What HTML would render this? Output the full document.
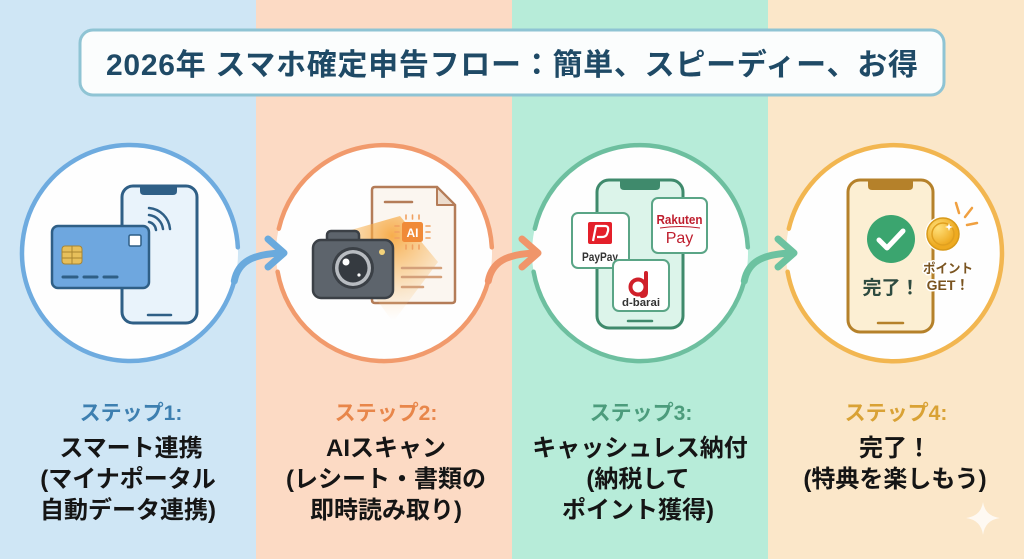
<!DOCTYPE html>
<html>
<head>
<meta charset="utf-8">
<style>
  html,body{margin:0;padding:0;}
  body{width:1024px;height:559px;overflow:hidden;background:#fbe7c9;}
  svg{display:block;}
  text{font-family:"Liberation Sans","Noto Sans CJK JP",sans-serif;font-weight:700;}
</style>
</head>
<body>
<svg width="1024" height="559" viewBox="0 0 1024 559" xmlns="http://www.w3.org/2000/svg">
  <defs>
    <radialGradient id="beam" cx="392" cy="236" r="85" gradientUnits="userSpaceOnUse">
      <stop offset="0" stop-color="#f6a030" stop-opacity="0.85"/>
      <stop offset="0.5" stop-color="#f8b860" stop-opacity="0.45"/>
      <stop offset="1" stop-color="#fbd8a8" stop-opacity="0"/>
    </radialGradient>
    <radialGradient id="coin" cx="938" cy="228" r="18" gradientUnits="userSpaceOnUse">
      <stop offset="0" stop-color="#ffe07a"/>
      <stop offset="1" stop-color="#eeaa20"/>
    </radialGradient>
  </defs>

  <!-- background panels -->
  <rect x="0" y="0" width="256" height="559" fill="#cfe6f5"/>
  <rect x="256" y="0" width="256" height="559" fill="#fcdac4"/>
  <rect x="512" y="0" width="256" height="559" fill="#b7ecd9"/>
  <rect x="768" y="0" width="256" height="559" fill="#fbe7c9"/>

  <!-- title -->
  <rect x="80" y="30" width="864" height="65" rx="13" fill="#fbfdfd" stroke="#8fc4d4" stroke-width="3"/>
  <text x="512" y="75" text-anchor="middle" font-size="30" fill="#1f4a66" textLength="812" lengthAdjust="spacing">2026年 スマホ確定申告フロー：簡単、スピーディー、お得</text>

  <!-- circle fills -->
  <circle cx="130" cy="253" r="108" fill="#fefefe"/>
  <circle cx="384" cy="253" r="108" fill="#fefefe"/>
  <circle cx="640" cy="253" r="108" fill="#fefefe"/>
  <circle cx="894" cy="253" r="108" fill="#fefefe"/>

  <!-- circle strokes -->
  <g fill="none" stroke-width="4.5" stroke-linecap="round">
    <path d="M234.3 281 A108 108 0 1 1 237.85 247.35" stroke="#6eabdf"/>
    <path d="M488.3 281 A108 108 0 0 1 277.6 271.75 M278.8 228.7 A108 108 0 0 1 491.85 247.35" stroke="#f19a6c"/>
    <path d="M744.3 281 A108 108 0 0 1 533.6 271.75 M534.8 228.7 A108 108 0 0 1 747.85 247.35" stroke="#6dbf9f"/>
    <path d="M788.8 228.7 A108 108 0 1 1 787.6 271.75" stroke="#f2b650"/>
  </g>

  <!-- arrows -->
  <g fill="none" stroke-width="7" stroke-linecap="round" stroke-linejoin="round">
    <g stroke="#6aaadd">
      <path d="M234.3 281 C238 262, 252 254, 282 253"/>
      <path d="M268 239 L284 253 L268 267"/>
    </g>
    <g stroke="#f0956a">
      <path d="M488.3 281 C492 262, 506 254, 536 253"/>
      <path d="M522 239 L538 253 L522 267"/>
    </g>
    <g stroke="#6cc2a0">
      <path d="M744.3 281 C748 262, 762 254, 792 253"/>
      <path d="M778 239 L794 253 L778 267"/>
    </g>
  </g>

  <!-- ICON 1: card + phone -->
  <rect x="122" y="186" width="75" height="137" rx="11" fill="#e9f3fb" stroke="#2f5f86" stroke-width="3"/>
  <path d="M140 186 L177 186 L177 191 Q177 195 173 195 L144 195 Q140 195 140 191 Z" fill="#2f5f86"/>
  <line x1="148" y1="315" x2="171" y2="315" stroke="#2f5f86" stroke-width="2.5" stroke-linecap="round"/>
  <g fill="none" stroke="#2f5f86" stroke-width="2.5" stroke-linecap="round">
    <path d="M149 222 A9 9 0 0 1 156 230"/>
    <path d="M149 215 A16 16 0 0 1 163 229"/>
    <path d="M149 208 A23 23 0 0 1 170 229"/>
  </g>
  <rect x="52" y="226" width="97" height="62" rx="6" fill="#6ea7df" stroke="#2f5f86" stroke-width="2.5"/>
  <rect x="62" y="246" width="20" height="18" rx="3" fill="#e7bf5a" stroke="#a88430" stroke-width="1"/>
  <g stroke="#a88430" stroke-width="1">
    <line x1="62" y1="252" x2="82" y2="252"/>
    <line x1="62" y1="258" x2="82" y2="258"/>
    <line x1="72" y1="246" x2="72" y2="264"/>
  </g>
  <rect x="129" y="235" width="12" height="11" rx="1.5" fill="#ffffff" stroke="#2f5f86" stroke-width="1.5"/>
  <g stroke="#2f5f86" stroke-width="3" stroke-linecap="round">
    <line x1="63" y1="277" x2="77" y2="277"/>
    <line x1="84" y1="277" x2="97" y2="277"/>
    <line x1="104" y1="277" x2="117" y2="277"/>
  </g>

  <!-- ICON 2: document + camera -->
  <path d="M372 190 Q372 187 375 187 L437 187 L455 205 L455 300 Q455 303 452 303 L375 303 Q372 303 372 300 Z" fill="#fbf6f0" stroke="#b47c58" stroke-width="2.5"/>
  <path d="M437 187 L437 205 L455 205 Z" fill="#ecdccd" stroke="#b47c58" stroke-width="2" stroke-linejoin="round"/>
  <line x1="385" y1="202" x2="412" y2="202" stroke="#b47c58" stroke-width="2.5" stroke-linecap="round"/>
  <polygon points="330,236 400,216 438,262 393,322" fill="url(#beam)"/>
  <g stroke="#d4a07a" stroke-width="2.5" stroke-linecap="round">
    <line x1="402" y1="268" x2="441" y2="268"/>
    <line x1="402" y1="277" x2="441" y2="277"/>
    <line x1="402" y1="287" x2="423" y2="287"/>
  </g>
  <g stroke="#f0a060" stroke-width="1.6" stroke-linecap="round">
    <line x1="406" y1="215" x2="406" y2="219"/><line x1="412.5" y1="215" x2="412.5" y2="219"/><line x1="419" y1="215" x2="419" y2="219"/>
    <line x1="406" y1="245" x2="406" y2="249"/><line x1="412.5" y1="245" x2="412.5" y2="249"/><line x1="419" y1="245" x2="419" y2="249"/>
    <line x1="395" y1="226" x2="399" y2="226"/><line x1="395" y1="232" x2="399" y2="232"/><line x1="395" y1="238" x2="399" y2="238"/>
    <line x1="426" y1="226" x2="430" y2="226"/><line x1="426" y1="232" x2="430" y2="232"/><line x1="426" y1="238" x2="430" y2="238"/>
  </g>
  <rect x="402" y="222" width="21" height="20" rx="2.5" fill="#f08a38"/>
  <text x="412.5" y="237" text-anchor="middle" font-size="12" fill="#ffffff">AI</text>
  <rect x="327" y="231" width="32" height="15" rx="4" fill="#5d646c" stroke="#3b4046" stroke-width="2.5"/>
  <rect x="313" y="240" width="80" height="58" rx="8" fill="#5d646c" stroke="#3b4046" stroke-width="2.5"/>
  <circle cx="353" cy="268" r="21" fill="#3b4046"/>
  <circle cx="353" cy="268" r="18" fill="#b8bcc1"/>
  <circle cx="353" cy="268" r="14.5" fill="#353a40"/>
  <circle cx="346" cy="262" r="3.5" fill="#ffffff"/>
  <circle cx="359" cy="275" r="1.6" fill="#ffffff"/>
  <circle cx="382" cy="252" r="3" fill="#f3d27a"/>

  <!-- ICON 3: phone + payment apps -->
  <rect x="597" y="180" width="86" height="148" rx="12" fill="#dcf4ea" stroke="#3f8a6c" stroke-width="3"/>
  <path d="M620 180 L660 180 L660 186 Q660 190 656 190 L624 190 Q620 190 620 186 Z" fill="#3f8a6c"/>
  <line x1="628" y1="321" x2="652" y2="321" stroke="#3f8a6c" stroke-width="2.5" stroke-linecap="round"/>

  <rect x="572" y="213" width="57" height="55" rx="6" fill="#ffffff" stroke="#5aa586" stroke-width="2"/>
  <rect x="588" y="222" width="24" height="22" rx="2" fill="#e4202a"/>
  <path d="M593 241 L596 226 L605 226 Q609 226 608 231 L607 234 Q606 237 602 237 L597 237" fill="none" stroke="#ffffff" stroke-width="2.2" stroke-linejoin="round"/>
  <text x="600" y="261" text-anchor="middle" font-size="11.5" fill="#333333" textLength="36" lengthAdjust="spacingAndGlyphs">PayPay</text>

  <rect x="652" y="198" width="55" height="55" rx="6" fill="#ffffff" stroke="#5aa586" stroke-width="2"/>
  <text x="679.5" y="224" text-anchor="middle" font-size="13" fill="#bf1e2e" textLength="46" lengthAdjust="spacingAndGlyphs">Rakuten</text>
  <path d="M660 228 Q680 225 700 228" fill="none" stroke="#bf1e2e" stroke-width="1"/>
  <text x="679.5" y="243" text-anchor="middle" font-size="16" fill="#bf1e2e" style="font-weight:400">Pay</text>

  <rect x="613" y="260" width="56" height="51" rx="6" fill="#ffffff" stroke="#5aa586" stroke-width="2"/>
  <circle cx="638" cy="287" r="7.5" fill="none" stroke="#d0202a" stroke-width="4"/>
  <path d="M646 273 L646 292 Q646 296 642 296" fill="none" stroke="#d0202a" stroke-width="4" stroke-linecap="round"/>
  <text x="641" y="306" text-anchor="middle" font-size="11" fill="#333333" textLength="38" lengthAdjust="spacingAndGlyphs">d-barai</text>

  <!-- ICON 4: complete phone + coin -->
  <rect x="848" y="180" width="85" height="152" rx="12" fill="#fcefd3" stroke="#b5812a" stroke-width="3"/>
  <path d="M868 180 L913 180 L913 186 Q913 190 909 190 L872 190 Q868 190 868 186 Z" fill="#b5812a"/>
  <line x1="878" y1="323" x2="903" y2="323" stroke="#b5812a" stroke-width="2.5" stroke-linecap="round"/>
  <circle cx="891" cy="239" r="24" fill="#3ba56f"/>
  <path d="M879 240 L887 248 L903 231" fill="none" stroke="#ffffff" stroke-width="5" stroke-linecap="round" stroke-linejoin="round"/>
  <text x="891" y="294" text-anchor="middle" font-size="19" fill="#2e4b40">完了！</text>

  <g stroke="#f0a040" stroke-width="2.5" stroke-linecap="round">
    <line x1="956" y1="203" x2="959" y2="213"/>
    <line x1="972" y1="208" x2="965" y2="217"/>
    <line x1="977" y1="223" x2="967" y2="225"/>
  </g>
  <circle cx="943" cy="234" r="18" fill="#ffffff"/>
  <circle cx="943" cy="234" r="16" fill="url(#coin)" stroke="#d89a1a" stroke-width="1.5"/>
  <circle cx="943" cy="234" r="11" fill="none" stroke="#e0a020" stroke-width="1.5"/>
  <path d="M949 223 L950 226 L953 227 L950 228 L949 231 L948 228 L945 227 L948 226 Z" fill="#ffffff"/>
  <g font-size="13" fill="#7a5420" stroke="#ffffff" stroke-width="3" paint-order="stroke" stroke-linejoin="round">
    <text x="948" y="273" text-anchor="middle" textLength="50" lengthAdjust="spacingAndGlyphs">ポイント</text>
    <text x="948" y="290" text-anchor="middle" font-size="14">GET！</text>
  </g>

  <!-- step labels -->
  <g text-anchor="middle">
    <text x="131" y="420" font-size="21" fill="#3d7fb0">ステップ1:</text>
    <text x="386" y="420" font-size="21" fill="#e8864a">ステップ2:</text>
    <text x="641" y="420" font-size="21" fill="#4c9c7c">ステップ3:</text>
    <text x="896" y="420" font-size="21" fill="#d9a235">ステップ4:</text>
  </g>
  <g text-anchor="middle" font-size="24" fill="#151515">
    <text x="131" y="456">スマート連携</text>
    <text x="128" y="487">(マイナポータル</text>
    <text x="128" y="518">自動データ連携)</text>

    <text x="386" y="456">AIスキャン</text>
    <text x="386" y="487">(レシート・書類の</text>
    <text x="386" y="518">即時読み取り)</text>

    <text x="640" y="456">キャッシュレス納付</text>
    <text x="638" y="487">(納税して</text>
    <text x="638" y="518">ポイント獲得)</text>

    <text x="895" y="456">完了！</text>
    <text x="895" y="487">(特典を楽しもう)</text>
  </g>

  <!-- sparkle -->
  <path d="M983 502 Q985 516 1000 518 Q985 520 983 535 Q981 520 966 518 Q981 516 983 502 Z" fill="#ffffff" opacity="0.75"/>
</svg>
</body>
</html>
